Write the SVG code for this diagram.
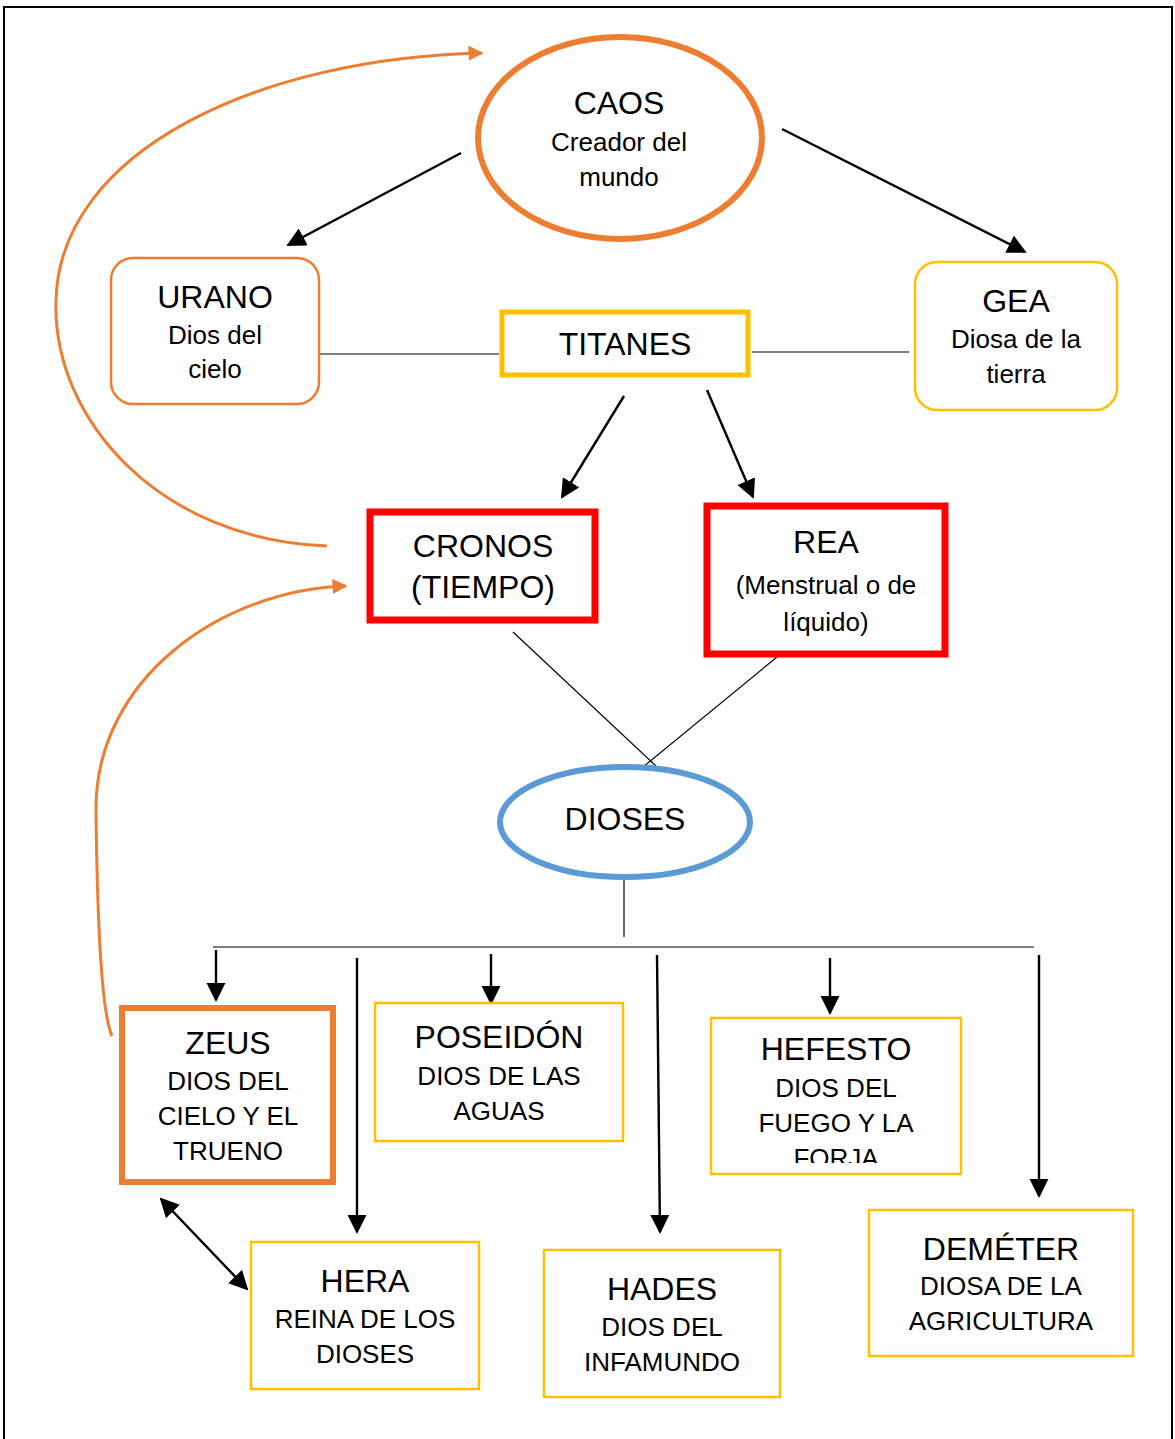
<svg xmlns="http://www.w3.org/2000/svg" width="1175" height="1439" viewBox="0 0 1175 1439">
  <defs>
    <style>
      text { font-family: "Liberation Sans", Arial, sans-serif; fill: #000; text-anchor: middle; }
      .t { font-size: 32px; }
      .s { font-size: 26px; }
      .ln { stroke: #000; stroke-width: 1.2; fill: none; }
      .ar { stroke: #000; stroke-width: 2.4; fill: none; }
      .curve { stroke: #ED7D31; stroke-width: 3; fill: none; }
      .yel { fill: #fff; stroke: #FFC000; stroke-width: 2.5; }
    </style>
    <marker id="ah" viewBox="0 0 10 10" refX="9" refY="5" markerWidth="7" markerHeight="7" markerUnits="userSpaceOnUse" orient="auto-start-reverse">
      <path d="M0,0 L10,5 L0,10 z" fill="#000"/>
    </marker>
    <marker id="ahb" viewBox="0 0 10 10" refX="9" refY="5" markerWidth="8" markerHeight="8" orient="auto-start-reverse">
      <path d="M0,0 L10,5 L0,10 z" fill="#000"/>
    </marker>
    <marker id="aho" viewBox="0 0 10 10" refX="9" refY="5" markerWidth="5" markerHeight="5" orient="auto">
      <path d="M0,0 L10,5 L0,10 z" fill="#ED7D31"/>
    </marker>
    <clipPath id="hefClip">
      <rect x="711" y="1018" width="250" height="145"/>
    </clipPath>
  </defs>

  <rect width="1175" height="1439" fill="#fff"/>
  <!-- page frame -->
  <path d="M4,1439 V7 H1172 V1439" fill="none" stroke="#000" stroke-width="2"/>

  <g id="connectors">
    <line class="ar" x1="461" y1="153" x2="288" y2="245" marker-end="url(#ahb)"/>
    <line class="ar" x1="782" y1="129" x2="1025" y2="252" marker-end="url(#ahb)"/>
    <line class="ln" x1="320" y1="354" x2="499" y2="354"/>
    <line class="ln" x1="752" y1="352" x2="909" y2="352"/>
    <line class="ar" x1="624" y1="396" x2="562" y2="497" marker-end="url(#ahb)"/>
    <line class="ar" x1="707" y1="390" x2="753" y2="497" marker-end="url(#ahb)"/>
    <line class="ln" x1="513" y1="632" x2="656" y2="766"/>
    <line class="ln" x1="777" y1="657" x2="643" y2="767"/>
    <line class="ln" x1="624" y1="874" x2="624" y2="937"/>
    <line class="ln" x1="213" y1="947" x2="1034" y2="947"/>
    <line class="ar" x1="216" y1="950" x2="216" y2="1000" marker-end="url(#ahb)"/>
    <line class="ar" x1="357" y1="958" x2="357" y2="1232" marker-end="url(#ahb)"/>
    <line class="ar" x1="491" y1="954" x2="491" y2="1003" marker-end="url(#ahb)"/>
    <line class="ar" x1="657" y1="955" x2="660" y2="1232" marker-end="url(#ahb)"/>
    <line class="ar" x1="830" y1="958" x2="830" y2="1013" marker-end="url(#ahb)"/>
    <line class="ar" x1="1039" y1="955" x2="1039" y2="1196" marker-end="url(#ahb)"/>
    <line class="ar" x1="161" y1="1199" x2="247" y2="1289" marker-start="url(#ahb)" marker-end="url(#ahb)"/>
    <path class="curve" d="M327,546 C160,540 52,420 56,300 C60,150 260,58 482,53" marker-end="url(#aho)"/>
    <path class="curve" d="M112,1036 C100,1010 97,900 96,810 C95,680 220,590 346,586" marker-end="url(#aho)"/>
  </g>

  <g id="caos">
    <ellipse cx="620" cy="138" rx="142" ry="101" fill="#fff" stroke="#ED7D31" stroke-width="6"/>
    <text class="t" x="619" y="114">CAOS</text>
    <text class="s" x="619" y="151">Creador del</text>
    <text class="s" x="619" y="186">mundo</text>
  </g>

  <g id="urano">
    <rect x="111" y="258" width="208" height="146" rx="22" fill="#fff" stroke="#ED7D31" stroke-width="2.5"/>
    <text class="t" x="215" y="308">URANO</text>
    <text class="s" x="215" y="344">Dios del</text>
    <text class="s" x="215" y="378">cielo</text>
  </g>

  <g id="gea">
    <rect x="915" y="262" width="202" height="148" rx="22" fill="#fff" stroke="#FFC000" stroke-width="2.5"/>
    <text class="t" x="1016" y="312">GEA</text>
    <text class="s" x="1016" y="348">Diosa de la</text>
    <text class="s" x="1016" y="383">tierra</text>
  </g>

  <g id="titanes">
    <rect x="502" y="312" width="246" height="63" fill="#fff" stroke="#FFC000" stroke-width="5"/>
    <text class="t" x="625" y="355">TITANES</text>
  </g>

  <g id="cronos">
    <rect x="370" y="512" width="225" height="108" fill="#fff" stroke="#FF0000" stroke-width="7"/>
    <text class="t" x="483" y="557">CRONOS</text>
    <text class="t" x="483" y="598">(TIEMPO)</text>
  </g>

  <g id="rea">
    <rect x="707" y="506" width="238" height="148" fill="#fff" stroke="#FF0000" stroke-width="7"/>
    <text class="t" x="826" y="553">REA</text>
    <text class="s" x="826" y="594">(Menstrual o de</text>
    <text class="s" x="826" y="631">líquido)</text>
  </g>

  <g id="dioses">
    <ellipse cx="625" cy="822" rx="125" ry="55" fill="#fff" stroke="#5B9BD5" stroke-width="6"/>
    <text class="t" x="625" y="830">DIOSES</text>
  </g>

  <g id="zeus">
    <rect x="122" y="1008" width="211" height="174" fill="#fff" stroke="#ED7D31" stroke-width="6"/>
    <text class="t" x="228" y="1054">ZEUS</text>
    <text class="s" x="228" y="1090">DIOS DEL</text>
    <text class="s" x="228" y="1125">CIELO Y EL</text>
    <text class="s" x="228" y="1160">TRUENO</text>
  </g>

  <g id="poseidon">
    <rect class="yel" x="375" y="1003" width="248" height="138"/>
    <text class="t" x="499" y="1048">POSEIDÓN</text>
    <text class="s" x="499" y="1085">DIOS DE LAS</text>
    <text class="s" x="499" y="1120">AGUAS</text>
  </g>

  <g id="hefesto">
    <rect class="yel" x="711" y="1018" width="250" height="156"/>
    <g clip-path="url(#hefClip)">
      <text class="t" x="836" y="1060">HEFESTO</text>
      <text class="s" x="836" y="1097">DIOS DEL</text>
      <text class="s" x="836" y="1132">FUEGO Y LA</text>
      <text class="s" x="836" y="1167">FORJA</text>
    </g>
  </g>

  <g id="hera">
    <rect class="yel" x="251" y="1242" width="228" height="147"/>
    <text class="t" x="365" y="1292">HERA</text>
    <text class="s" x="365" y="1328">REINA DE LOS</text>
    <text class="s" x="365" y="1363">DIOSES</text>
  </g>

  <g id="hades">
    <rect class="yel" x="544" y="1250" width="236" height="147"/>
    <text class="t" x="662" y="1300">HADES</text>
    <text class="s" x="662" y="1336">DIOS DEL</text>
    <text class="s" x="662" y="1371">INFAMUNDO</text>
  </g>

  <g id="demeter">
    <rect class="yel" x="869" y="1210" width="264" height="146"/>
    <text class="t" x="1001" y="1260">DEMÉTER</text>
    <text class="s" x="1001" y="1295">DIOSA DE LA</text>
    <text class="s" x="1001" y="1330">AGRICULTURA</text>
  </g>
</svg>
